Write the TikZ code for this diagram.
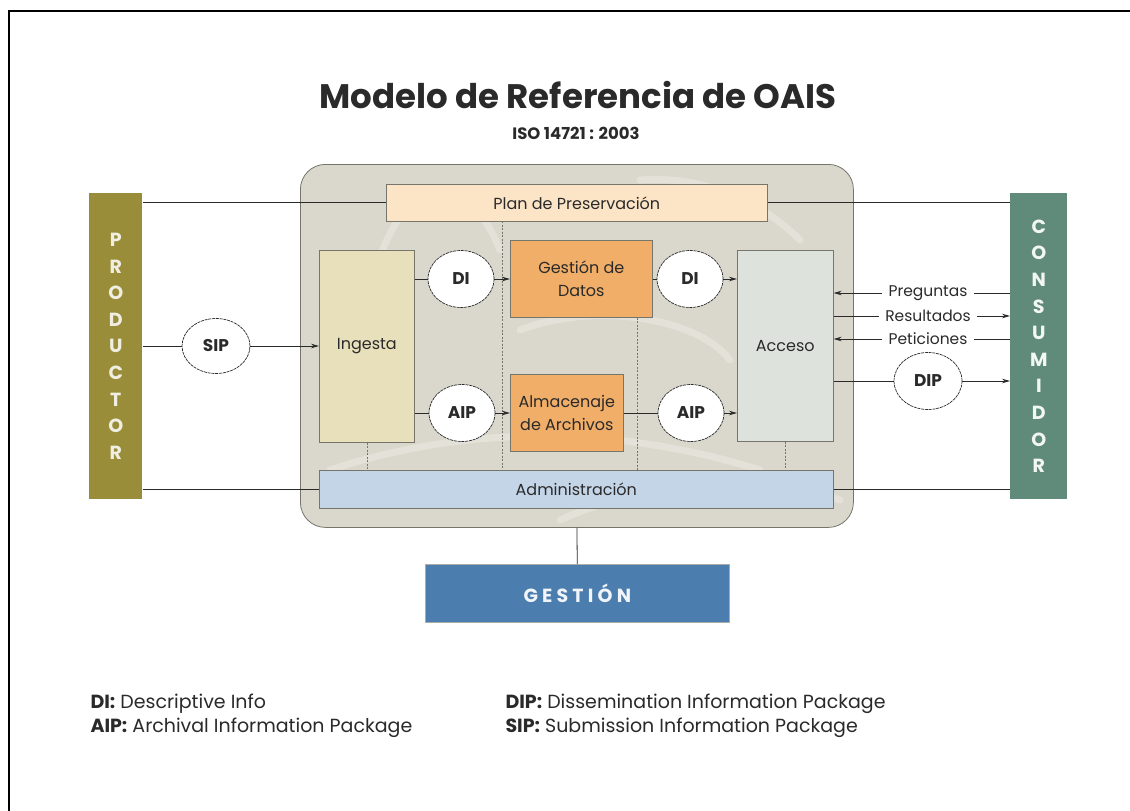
\documentclass[tikz,border=0pt]{standalone}
\usepackage{fontspec}
\setmainfont{Poppins}
\usetikzlibrary{arrows.meta,shapes.geometric}
\definecolor{prodcol}{HTML}{998D3A}
\definecolor{conscol}{HTML}{608B7B}
\definecolor{bgbox}{HTML}{DAD8CD}
\definecolor{plancol}{HTML}{FCE4C6}
\definecolor{ingcol}{HTML}{E8DFBB}
\definecolor{orangecol}{HTML}{F0AE68}
\definecolor{acccol}{HTML}{DDE3DC}
\definecolor{admcol}{HTML}{C4D5E8}
\definecolor{gestcol}{HTML}{4B7DAE}
\definecolor{textcol}{HTML}{2A2A2A}
\definecolor{bordercol}{HTML}{75756C}
\definecolor{swirl}{HTML}{E6E4DB}
\tikzset{
  box/.style={draw=bordercol, line width=0.6pt, inner sep=0pt, anchor=north west,
    align=center, text=textcol, font=\fontsize{16}{23}\selectfont},
  ell/.style={ellipse, draw=textcol, line width=0.7pt, dash pattern=on 3pt off 0.8pt,
    fill=white, inner sep=0pt, minimum width=66pt, minimum height=57pt,
    text=textcol, font=\fontsize{17}{20}\selectfont\bfseries},
  conn/.style={draw=textcol, line width=0.8pt},
  arr/.style={conn, -{Stealth[length=8pt,width=4.5pt]}},
  dline/.style={draw=bordercol, line width=0.6pt, dash pattern=on 2pt off 1.5pt},
  lbl/.style={fill=white, inner xsep=6pt, inner ysep=0pt, text=textcol,
    font=\fontsize{15.5}{17}\selectfont},
  vert/.style={align=center, font=\fontsize{19}{26.6}\selectfont\bfseries},
  legend/.style={anchor=base west, text=textcol, font=\fontsize{19}{21}\selectfont}
}
\begin{document}
\begin{tikzpicture}[x=1pt,y=-1pt]
\useasboundingbox (0,0) rectangle (1130,811);
\fill[white] (0,0) rectangle (1130,811);
\draw[line width=2.5pt] (1130,11) -- (9,11) -- (9,811);

% title
\node[text=textcol, font=\fontsize{34}{36}\selectfont\bfseries, anchor=base] (title) at (578,108) {Modelo de Referencia de OAIS};
\node[text=textcol, font=\fontsize{16.5}{18}\selectfont\bfseries, anchor=base] (iso) at (576,139) {ISO 14721 : 2003};

% big container
\node[draw=bordercol, line width=0.8pt, fill=bgbox, rounded corners=25pt, anchor=north west,
  minimum width=553pt, minimum height=363pt, inner sep=0pt] (oais) at (300,164) {};
% faint background swirls
\begin{scope}[swirl, line width=7pt, line cap=round, opacity=0.8]
  \draw (365,330) .. controls (380,180) and (460,150) .. (500,250);
  \draw (330,470) .. controls (450,430) and (600,420) .. (760,470);
  \draw (520,330) .. controls (600,300) and (700,320) .. (730,360);
  \draw (560,520) .. controls (650,480) and (760,470) .. (840,500);
  \draw (640,180) .. controls (700,175) and (760,200) .. (800,240);
\end{scope}

% boxes
\node[box, fill=plancol, minimum width=381pt, minimum height=37pt] (plan) at (386,184) {Plan de Preservación};
\node[box, fill=ingcol, minimum width=95pt, minimum height=192pt] (ing) at (319,250) {Ingesta};
\node[box, fill=orangecol, minimum width=142pt, minimum height=77pt] (gd) at (510,240) {Gestión de\\Datos};
\node[box, fill=orangecol, minimum width=113pt, minimum height=77pt] (alm) at (510,374) {Almacenaje\\de Archivos};
\node[box, fill=acccol, minimum width=96pt, minimum height=191pt] (acc) at (737,250) {Acceso};
\node[box, fill=admcol, minimum width=514pt, minimum height=38pt] (admin) at (319,470) {Administración};
\node[box, draw=none, fill=prodcol, minimum width=53pt, minimum height=306pt] (prod) at (89,193) {};
\node[vert, text=white!85!prodcol] (prodtxt) at (prod.center) {P\\R\\O\\D\\U\\C\\T\\O\\R};
\node[box, draw=none, fill=conscol, minimum width=57pt, minimum height=306pt] (cons) at (1010,193) {};
\node[vert, text=white!92!conscol] (constxt) at (cons.center) {C\\O\\N\\S\\U\\M\\I\\D\\O\\R};
\node[box, draw=bordercol!60, fill=gestcol, minimum width=304pt, minimum height=58pt,
  text=white!92!gestcol, font=\fontsize{19}{22}\selectfont\bfseries\addfontfeatures{LetterSpace=22}] (gest) at (425,564) {GESTIÓN};

% dashed separators
\coordinate (d1) at (502,221);
\coordinate (d2) at (637,0);
\draw[dline] (d1) -- (d1 |- admin.north);
\draw[dline] (gd.south -| d2) -- (admin.north -| d2);
\draw[dline] (ing.south) -- (ing.south |- admin.north);
\draw[dline] (acc.south) -- (acc.south |- admin.north);

% ellipses
\node[ell, minimum width=68pt, minimum height=55pt] (sip) at (216,346) {SIP};
\node[ell] (di1) at (461,279) {DI};
\node[ell] (aip1) at (462,413) {AIP};
\node[ell] (di2) at (690,279) {DI};
\node[ell] (aip2) at (691,413) {AIP};
\node[ell, minimum width=68pt] (dip) at (928,381) {DIP};

% long lines
\draw[conn] (prod.east |- plan) -- (plan.west);
\draw[conn] (plan.east) -- (cons.west |- plan);
\draw[conn] (prod.east |- admin) -- (admin.west);
\draw[conn] (admin.east) -- (cons.west |- admin);
\draw[conn] (oais.south) -- (gest.north);

% flows
\draw[conn] (prod.east |- sip) -- (sip.west);
\draw[arr] (sip.east) -- (ing.west |- sip);
\draw[conn] (ing.east |- di1) -- (di1.west);
\draw[arr] (di1.east) -- (gd.west |- di1);
\draw[conn] (ing.east |- aip1) -- (aip1.west);
\draw[arr] (aip1.east) -- (alm.west |- aip1);
\draw[conn] (gd.east |- di2) -- (di2.west);
\draw[arr] (di2.east) -- (acc.west |- di2);
\draw[conn] (alm.east |- aip2) -- (aip2.west);
\draw[arr] (aip2.east) -- (acc.west |- aip2);
\draw[conn] (acc.east |- dip) -- (dip.west);
\draw[arr] (dip.east) -- (cons.west |- dip);

% consumer queries
\node[lbl] (preg) at (928,293) {Preguntas};
\node[lbl] (res) at (928,316) {Resultados};
\node[lbl] (pet) at (928,339) {Peticiones};
\draw[conn] (cons.west |- preg) -- (preg.east);
\draw[arr] (preg.west) -- (acc.east |- preg);
\draw[conn] (acc.east |- res) -- (res.west);
\draw[arr] (res.east) -- (cons.west |- res);
\draw[conn] (cons.west |- pet) -- (pet.east);
\draw[arr] (pet.west) -- (acc.east |- pet);

% legend
\node[legend] (l1) at (87,708) {\textbf{DI:} Descriptive Info};
\node[legend] (l2) at (87,732) {\textbf{AIP:} Archival Information Package};
\node[legend] (l3) at (502,708) {\textbf{DIP:} Dissemination Information Package};
\node[legend] (l4) at (502,732) {\textbf{SIP:} Submission Information Package};
\end{tikzpicture}
\end{document}
